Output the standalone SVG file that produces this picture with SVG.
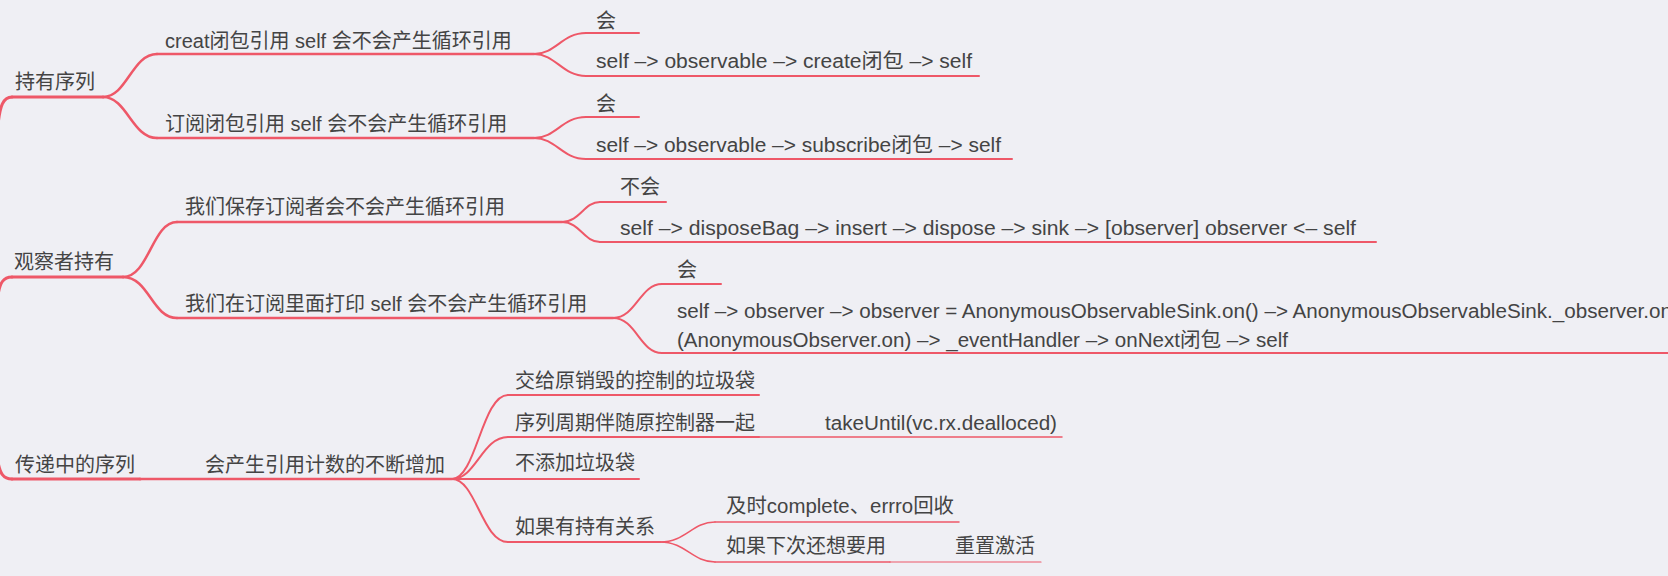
<svg xmlns="http://www.w3.org/2000/svg" width="1668" height="576" viewBox="0 0 1668 576">
<style>
.bg{fill:#efeff4}
text{font-family:"Liberation Sans","Noto Sans CJK SC",sans-serif;font-size:20px;fill:#444}
.ln{fill:none;stroke:#ee5868;stroke-linecap:round}
.l1{stroke-width:3}
.l2{stroke-width:2.5}
.l3{stroke-width:2}
.l4{stroke-width:1.5}
.l5{stroke-width:1.2}
</style>
<rect class="bg" x="0" y="0" width="1668" height="576"/>
<g id="connectors">
<path class="ln l1" d="M-2,125 C0,106 3,97 12,97"/>
<path class="ln l1" d="M-2,295 C0,283 3,277 12,277"/>
<path class="ln l1" d="M-2,462 C0,473 3,479 12,479"/>
<path class="ln l2" d="M103,97 C127,97 132,54 157,54"/>
<path class="ln l2" d="M103,97 C127,97 132,138 157,138"/>
<path class="ln l3" d="M534,54 C556,54 562,33 586,33"/>
<path class="ln l3" d="M534,54 C556,54 562,76 586,76"/>
<path class="ln l3" d="M534,138 C556,138 562,117 586,117"/>
<path class="ln l3" d="M534,138 C556,138 562,159 586,159"/>
<path class="ln l2" d="M123,277 C149,277 152,222 177,222"/>
<path class="ln l2" d="M123,277 C149,277 152,318 177,318"/>
<path class="ln l3" d="M562,222 C580,222 584,202 600,202"/>
<path class="ln l3" d="M562,222 C580,222 584,242 600,242"/>
<path class="ln l3" d="M613,318 C636,318 640,284 662,284"/>
<path class="ln l3" d="M613,318 C636,318 640,353 662,353"/>
<path class="ln l3" d="M452,479 C476,479 482,395 508,395"/>
<path class="ln l3" d="M452,479 C476,479 482,437 508,437"/>
<path class="ln l3" d="M452,479 L508,479"/>
<path class="ln l3" d="M452,479 C476,479 482,542 508,542"/>
<path class="ln l4" d="M660,542 C686,542 692,522 715,522"/>
<path class="ln l4" d="M660,542 C686,542 692,562 715,562"/>
</g>
<g id="n-hold-seq"><path class="ln l1" d="M12,97 H103"/><text x="15" y="89">持有序列</text></g>
<g id="n-create-q"><path class="ln l2" d="M157,54 H534"/><text x="165" y="48">creat闭包引用 self 会不会产生循环引用</text></g>
<g id="n-sub-q"><path class="ln l2" d="M157,138 H534"/><text x="165" y="131">订阅闭包引用 self 会不会产生循环引用</text></g>
<g id="n-yes1"><path class="ln l3" d="M586,33 H639"/><text x="596" y="28">会</text></g>
<g id="n-create-chain"><path class="ln l3" d="M586,76 H979"/><text x="596" y="68" textLength="376" lengthAdjust="spacingAndGlyphs">self –&gt; observable –&gt; create闭包 –&gt; self</text></g>
<g id="n-yes2"><path class="ln l3" d="M586,117 H639"/><text x="596" y="111">会</text></g>
<g id="n-sub-chain"><path class="ln l3" d="M586,159 H1012"/><text x="596" y="152" textLength="405" lengthAdjust="spacingAndGlyphs">self –&gt; observable –&gt; subscribe闭包 –&gt; self</text></g>

<g id="n-observer-hold"><path class="ln l1" d="M12,277 H123"/><text x="14" y="269">观察者持有</text></g>
<g id="n-save-q"><path class="ln l2" d="M177,222 H562"/><text x="185" y="214">我们保存订阅者会不会产生循环引用</text></g>
<g id="n-print-q"><path class="ln l2" d="M177,318 H613"/><text x="185" y="311">我们在订阅里面打印 self 会不会产生循环引用</text></g>
<g id="n-no"><path class="ln l3" d="M600,202 H666"/><text x="620" y="194">不会</text></g>
<g id="n-dispose-chain"><path class="ln l3" d="M600,242 H1376"/><text x="620" y="235" textLength="736" lengthAdjust="spacingAndGlyphs">self –&gt; disposeBag –&gt; insert –&gt; dispose –&gt; sink –&gt; [observer] observer &lt;– self</text></g>
<g id="n-yes3"><path class="ln l3" d="M662,284 H721"/><text x="677" y="277">会</text></g>
<g id="n-observer-chain"><path class="ln l3" d="M662,353 H1672"/><text x="677" y="318" textLength="995" lengthAdjust="spacingAndGlyphs">self –&gt; observer –&gt; observer = AnonymousObservableSink.on() –&gt; AnonymousObservableSink._observer.on</text><text x="677" y="347" textLength="611" lengthAdjust="spacingAndGlyphs">(AnonymousObserver.on) –&gt; _eventHandler –&gt; onNext闭包 –&gt; self</text></g>

<g id="n-passing-seq"><path class="ln l1" d="M12,479 H140"/><text x="15" y="472">传递中的序列</text></g>
<g id="n-count"><path class="ln l2" d="M140,479 H452"/><text x="205" y="472">会产生引用计数的不断增加</text></g>
<g id="n-bag"><path class="ln l3" d="M508,395 H759"/><text x="515" y="388">交给原销毁的控制的垃圾袋</text></g>
<g id="n-life"><path class="ln l3" d="M508,437 H759"/><text x="515" y="430">序列周期伴随原控制器一起</text></g>
<g id="n-take"><path class="ln l4" d="M759,437 H1062"/><text x="825" y="430" textLength="232" lengthAdjust="spacingAndGlyphs">takeUntil(vc.rx.dealloced)</text></g>
<g id="n-nobag"><path class="ln l3" d="M508,479 H639"/><text x="515" y="470">不添加垃圾袋</text></g>
<g id="n-hold"><path class="ln l3" d="M508,542 H660"/><text x="515" y="534">如果有持有关系</text></g>
<g id="n-complete"><path class="ln l4" d="M715,522 H959"/><text x="726" y="513" textLength="228" lengthAdjust="spacingAndGlyphs">及时complete、errro回收</text></g>
<g id="n-next"><path class="ln l4" d="M715,562 H890"/><text x="726" y="553">如果下次还想要用</text></g>
<g id="n-reset"><path class="ln l5" d="M890,562 H1041"/><text x="955" y="553">重置激活</text></g>
</svg>
